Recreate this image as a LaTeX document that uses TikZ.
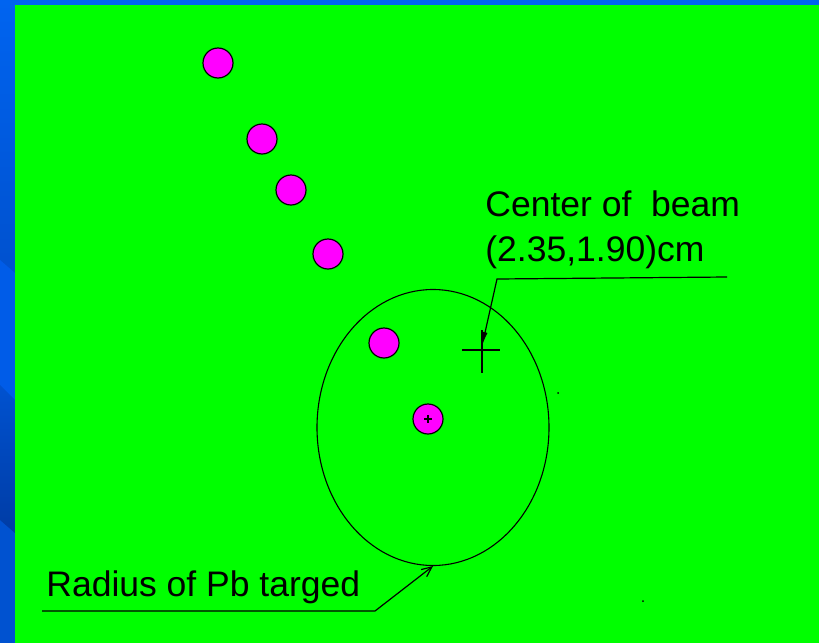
\documentclass[tikz,border=0pt]{standalone}
\usepackage{fontspec}
\setmainfont{Liberation Sans}
\usetikzlibrary{shapes.geometric,arrows.meta}

\definecolor{slidetop}{RGB}{0,100,240}
\definecolor{slidemid}{RGB}{0,82,208}
\definecolor{slidelight}{RGB}{0,92,232}
\definecolor{slidedark}{RGB}{0,60,165}
\definecolor{slidegreen}{RGB}{0,255,0}
\definecolor{spotpink}{RGB}{255,0,255}

\tikzset{
  spot/.style={circle, draw=black, fill=spotpink, line width=1.2pt, minimum size=30pt, inner sep=0pt},
  label text/.style={inner sep=0pt, anchor=base west, font=\fontsize{35.5}{40}\selectfont},
  leader/.style={line width=1.2pt},
}

\begin{document}
\begin{tikzpicture}[x=1pt, y=-1pt, thick]
\useasboundingbox (0,0) rectangle (819,643);

% --- Background ---
\fill[slidemid] (0,0) rectangle (819,643);
\shade[top color=slidetop, bottom color=slidemid] (0,0) rectangle (819,260);
\fill[slidelight] (0,260) -- (15,273) -- (15,400) -- (0,385) -- cycle;
\shade[top color=slidemid, bottom color=slidedark] (0,385) -- (15,400) -- (15,533) -- (0,520) -- cycle;
\fill[slidegreen] (15,5) rectangle (819,643);

% --- Particles ---
\foreach \x/\y [count=\i] in {218/63, 262/139, 291/190, 328/254, 384/343, 428/419}
  \node[spot] (spot\i) at (\x,\y) {};
\draw[line width=1.2pt] ([xshift=-4pt]spot6.center) -- ([xshift=4pt]spot6.center);
\draw[line width=1.2pt] ([yshift=4pt]spot6.center) -- ([yshift=-4pt]spot6.center);

% --- Target ---
\node[draw, ellipse, line width=1.1pt, minimum width=232pt, minimum height=276pt, inner sep=0pt] (target) at (433,427.5) {};

% --- Beam centre ---
\coordinate (beam) at (482,350);
\draw[leader] ([xshift=-20pt]beam) -- ([xshift=18pt]beam);
\draw[leader] ([yshift=20pt]beam) -- ([yshift=-23pt]beam);
\node[label text] (beamlabel) at (485,216) {Center of~ beam};
\node[label text] (beampos) at (485,261.5) {(2.35,1.90)cm};
\coordinate (beamknee) at (497,279);
\coordinate (beamend) at (727,277);
\draw[leader, -{Latex[length=14pt, width=5pt]}] (beamend) -- (beamknee) -- ([yshift=4pt]beam);

% --- Target radius ---
\node[label text] (radiuslabel) at (46,596.5) {Radius of Pb targed};
\coordinate (radend) at (42,611);
\coordinate (radknee) at (375,611);
\draw[leader, -{Straight Barb[length=10pt, width=9pt]}] (radend) -- (radknee) -- (target.south);

% specks
\fill (558,393) circle (1pt);
\fill (643,601) circle (1pt);

\end{tikzpicture}
\end{document}
